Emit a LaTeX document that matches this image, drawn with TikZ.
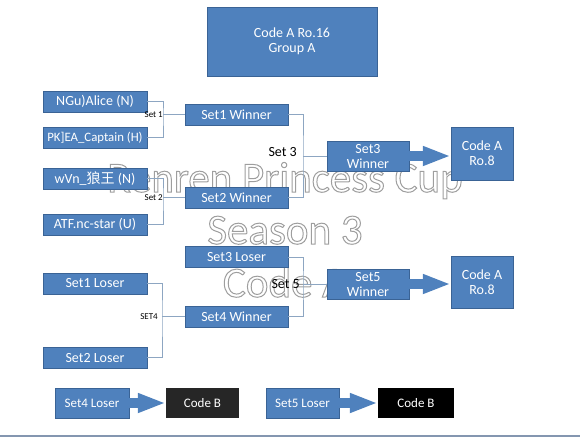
\documentclass[tikz,border=0pt]{standalone}
\usepackage{fontspec}
\setmainfont{Carlito}
\newfontfamily\cjkfont{Noto Sans CJK SC}
\usetikzlibrary{arrows.meta,positioning}
\definecolor{boxblue}{HTML}{4F81BD}
\definecolor{boxedge}{HTML}{3A6395}
\definecolor{wirecol}{HTML}{8DA6C2}
\definecolor{coalbox}{HTML}{262626}
\definecolor{rulecol}{HTML}{8496B0}
\newcommand{\hollow}[1]{\special{pdf:literal 2 Tr 1 w 0.62 G}#1\special{pdf:literal 0 Tr}}

\begin{document}
\begin{tikzpicture}[x=1pt,y=-1pt,
  box/.style={draw=boxedge,fill=boxblue,text=white,inner sep=0pt,align=center,font=\fontsize{14}{15}\selectfont},
  small/.style={box,minimum width=104pt,minimum height=21pt},
  wire/.style={draw=wirecol,line width=.8pt},
  fat/.style={boxblue,line width=10pt,-{Triangle[length=28pt,width=18pt]}},
  tag/.style={anchor=east,inner sep=0pt,font=\fontsize{9}{10}\selectfont},
  wm/.style={text=white,anchor=base,inner sep=0pt,font=\fontsize{43}{43}\selectfont}]
\useasboundingbox (0,0) rectangle (580,437);
% watermark
\node[wm] (wmA) at (285,192) {\hollow{Renren Princess Cup}};
\node[wm] (wmB) at (285,244) {\hollow{Season 3}};
\node[wm] (wmC) at (285,297) {\hollow{Code A}};
% group box
\node[box,minimum width=170pt,minimum height=69pt] (group) at (292,41.5) {Code A Ro.16\\Group A};
% winners bracket
\node[small] (alice) at (95,101.5) {NGu)Alice (N)};
\node[small,font=\fontsize{12.8}{14}\selectfont] (pk) at (95,137.5) {PK]EA\_Captain (H)};
\node[small] (wvn) at (95,178.5) {wVn\_{\cjkfont 狼王} (N)};
\node[small] (atf) at (95,224.5) {ATF.nc-star (U)};
\node[small,minimum width=103pt] (s1w) at (236.5,114.5) {Set1 Winner};
\node[small,minimum width=103pt] (s2w) at (236.5,197.5) {Set2 Winner};
\node[box,minimum width=82pt,minimum height=30pt] (s3w) at (368,156) {Set3\\Winner};
\node[box,minimum width=62pt,minimum height=53pt] (roA) at (482,153.5) {Code A\\Ro.8};
\coordinate (b1) at (163,114.5);
\coordinate (b2) at (163,197.5);
\coordinate (b3) at (303,156);
\draw[wire] (alice.east) -| (b1) |- (pk.east) (b1) -- (s1w.west);
\draw[wire] (wvn.east) -| (b2) |- (atf.east) (b2) -- (s2w.west);
\draw[wire] (s1w.east) -| (b3) |- (s2w.east) (b3) -- (s3w.west);
\node[tag] at (b1) {Set 1};
\node[tag] at (b2) {Set 2};
\node[tag,font=\fontsize{14}{15}\selectfont] at ([shift={(-6,-4)}]b3) {Set 3};
\draw[fat] (s3w.east) -- (s3w.east -| roA.west);
% losers bracket
\node[small,minimum width=103pt] (s3l) at (236.5,257) {Set3 Loser};
\node[small,minimum width=103pt] (s4w) at (236.5,316.5) {Set4 Winner};
\node[small] (l1) at (95,283.5) {Set1 Loser};
\node[small] (l2) at (95,357.5) {Set2 Loser};
\node[box,minimum width=82pt,minimum height=30pt] (s5w) at (368,284) {Set5\\Winner};
\node[box,minimum width=62pt,minimum height=52pt] (roB) at (482,282) {Code A\\Ro.8};
\coordinate (b4) at (162,316.5);
\coordinate (b5) at (303,284);
\draw[wire] (l1.east) -| (b4) |- (l2.east) (b4) -- (s4w.west);
\draw[wire] (s3l.east) -| (b5) |- (s4w.east) (b5) -- (s5w.west);
\node[tag] at ([xshift=-4pt]b4) {SET4};
\node[tag,font=\fontsize{14}{15}\selectfont] at ([xshift=-3pt]b5) {Set 5};
\draw[fat] (s5w.east) -- (s5w.east -| roB.west);
% code B
\node[box,font=\fontsize{13}{14}\selectfont,minimum width=74pt,minimum height=30pt] (l4) at (92,403) {Set4 Loser};
\node[box,draw=none,fill=coalbox,font=\fontsize{13}{14}\selectfont,minimum width=73pt,minimum height=30pt] (cb1) at (202.5,403) {Code B};
\node[box,font=\fontsize{13}{14}\selectfont,minimum width=73pt,minimum height=30pt] (l5) at (302.5,403) {Set5 Loser};
\node[box,draw=none,fill=black,font=\fontsize{13}{14}\selectfont,minimum width=76pt,minimum height=30pt] (cb2) at (416,403) {Code B};
\draw[fat] (l4.east) -- (cb1.west);
\draw[fat] (l5.east) -- (cb2.west);
\draw[rulecol,line width=1.5pt] (0,436) -- (580,436);
\end{tikzpicture}
\end{document}
